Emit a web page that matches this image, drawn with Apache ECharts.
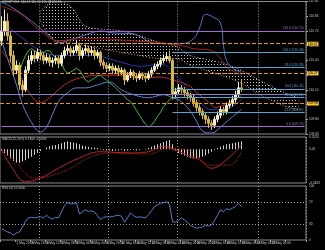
<!DOCTYPE html>
<html><head><meta charset="utf-8">
<script src="https://cdn.jsdelivr.net/npm/echarts@6/dist/echarts.min.js"></script>
<style>html,body{margin:0;padding:0;background:#000;}#c{width:325px;height:250px;}</style>
</head><body><div id="c"></div>
<script>
// ---------- DATA ----------
const barCount = 102; // 81 price bars + future space for the cloud
// [open, close, low, high]
const candles = [
[110.60,110.70,110.55,110.85],[110.70,110.80,110.65,110.92],[110.80,110.65,110.60,110.88],[110.65,110.45,110.38,110.70],
[110.45,110.30,110.24,110.50],[110.30,110.35,110.26,110.40],[110.35,110.15,110.10,110.38],[110.15,110.10,110.03,110.20],
[110.10,110.30,110.08,110.34],[110.30,110.40,110.27,110.45],[110.40,110.45,110.36,110.50],[110.45,110.42,110.38,110.50],
[110.42,110.48,110.39,110.52],[110.48,110.45,110.40,110.51],[110.45,110.40,110.36,110.48],[110.40,110.43,110.37,110.47],
[110.43,110.38,110.34,110.46],[110.38,110.40,110.33,110.43],[110.40,110.42,110.36,110.45],[110.42,110.37,110.32,110.45],
[110.37,110.45,110.34,110.48],[110.45,110.50,110.42,110.54],[110.50,110.52,110.46,110.56],[110.52,110.48,110.44,110.55],
[110.48,110.50,110.45,110.54],[110.50,110.55,110.47,110.60],[110.55,110.45,110.40,110.58],[110.45,110.50,110.42,110.53],
[110.50,110.52,110.46,110.56],[110.52,110.48,110.44,110.55],[110.48,110.50,110.45,110.54],[110.50,110.45,110.41,110.53],
[110.45,110.48,110.42,110.51],[110.48,110.38,110.34,110.50],[110.38,110.35,110.31,110.41],[110.35,110.32,110.28,110.38],
[110.32,110.34,110.29,110.37],[110.34,110.30,110.26,110.37],[110.30,110.32,110.27,110.35],[110.32,110.28,110.24,110.35],
[110.28,110.30,110.25,110.33],[110.30,110.20,110.15,110.32],[110.20,110.25,110.18,110.28],[110.25,110.28,110.22,110.31],
[110.28,110.24,110.20,110.30],[110.24,110.22,110.18,110.27],[110.22,110.26,110.20,110.29],[110.26,110.24,110.20,110.28],
[110.24,110.22,110.18,110.27],[110.22,110.26,110.20,110.29],[110.26,110.30,110.23,110.33],[110.30,110.34,110.28,110.37],
[110.34,110.36,110.31,110.39],[110.36,110.40,110.33,110.43],[110.40,110.42,110.37,110.46],[110.42,110.44,110.39,110.48],
[110.44,110.40,110.37,110.50],[110.40,110.05,110.00,110.42],[110.05,110.08,110.02,110.12],[110.08,110.12,110.05,110.16],
[110.12,110.10,110.06,110.15],[110.10,110.07,110.03,110.13],[110.07,110.04,110.00,110.10],[110.04,110.02,109.98,110.07],
[110.02,109.97,109.93,110.05],[109.97,109.92,109.88,110.00],[109.92,109.88,109.84,109.95],[109.88,109.84,109.80,109.91],
[109.84,109.80,109.75,109.87],[109.80,109.76,109.71,109.83],[109.76,109.74,109.69,109.79],[109.74,109.80,109.71,109.83],
[109.80,109.84,109.77,109.88],[109.84,109.90,109.81,109.93],[109.90,109.88,109.84,109.93],[109.88,109.94,109.85,109.97],
[109.94,109.96,109.91,110.00],[109.96,110.00,109.93,110.04],[110.00,110.05,109.97,110.09],[110.05,110.12,110.02,110.18],
[110.12,110.11,110.08,110.20]
];
// indicator lines: [bar index, price]
const bandUpper = [[0,110.99],[3,110.95],[10,110.80],[16,110.65],[19,110.58],[24,110.62],[30,110.68],[33,110.70],[37,110.68],[44,110.67],[47,110.63],[50,110.58],[54,110.57],[60,110.57],[64,110.62],[66,110.73],[68,110.87],[70,110.85],[73,110.78],[74,110.55],[75,110.40],[77,110.32],[80,110.28]];
const bandLower = [[0,110.60],[3,110.33],[5,110.15],[7,109.95],[10,109.77],[13,109.67],[15,109.72],[17,109.85],[19,109.98],[22,110.07],[25,110.12],[28,110.12],[32,110.15],[36,110.18],[40,110.10],[44,110.05],[49,110.02],[54,110.05],[57,110.02],[60,109.98],[63,109.88],[65,109.78],[67,109.68],[70,109.66],[73,109.72],[76,109.80],[80,109.90]];
const redLower = [[0,110.50],[6,110.25],[9,110.08],[13,109.97],[16,110.02],[19,110.10],[22,110.17],[26,110.22],[33,110.25],[40,110.25],[46,110.22],[53,110.23],[57,110.20],[62,110.15],[66,110.05],[70,109.95],[71,109.92],[75,109.96],[80,110.04]];
const redUpper = [[0,110.95],[6,110.88],[13,110.70],[19,110.60],[26,110.62],[33,110.62],[43,110.60],[53,110.58],[60,110.55],[64,110.52],[70,110.50],[73,110.42],[75,110.33],[78,110.28],[80,110.24]];
const kijun = [[0,110.80],[6,110.65],[13,110.50],[19,110.45],[30,110.45],[40,110.38],[46,110.34],[53,110.36],[58,110.25],[64,110.05],[70,109.90],[74,109.90],[80,110.00]];
const chikou = [[6,110.28],[7,110.38],[8,110.45],[9,110.50],[10,110.52],[11,110.50],[12,110.48],[13,110.47],[14,110.48],[15,110.50],[16,110.50],[17,110.46],[18,110.43],[19,110.42],[20,110.38],[21,110.30],[22,110.27],[23,110.28],[24,110.30],[25,110.32],[26,110.30],[27,110.25],[28,110.20],[29,110.18],[30,110.20],[31,110.22],[32,110.24],[33,110.25],[34,110.22],[35,110.20],[36,110.17],[37,110.15],[38,110.12],[39,110.09],[40,110.06],[41,110.03],[42,110.00],[43,109.98],[44,109.94],[45,109.89],[46,109.84],[47,109.79],[48,109.75],[49,109.72],[50,109.74],[51,109.78],[52,109.83],[53,109.87],[54,109.93],[55,109.96],[56,110.00],[57,110.03]];
const cloudLow = [[13,110.80],[18,110.60],[23,110.58],[28,110.55],[33,110.52],[40,110.48],[46,110.45],[53,110.42],[58,110.42],[63,110.35],[70,110.28],[76,110.22],[81,110.15],[86,110.05],[91,109.98],[96,109.92],[99,109.90]];
const cloudHigh = [[13,110.90],[18,111.00],[23,110.95],[28,110.75],[33,110.72],[40,110.70],[46,110.65],[53,110.58],[58,110.55],[63,110.45],[70,110.40],[76,110.35],[81,110.28],[86,110.20],[91,110.12],[96,110.05],[99,110.02]];
// levels
const fibNames  = ['161.8','100.0','76.4','50.0','38.2','23.6','0.0'];
const fibPrices = [110.70, 110.48, 110.33, 110.11, 110.02, 109.87, 109.73];
const dashedLevels = [110.57, 110.27, 109.96];
const plainLevels = [110.06];
const lastPrice = 110.11;
// MACD
const macdHist = [-0.03,-0.06,-0.10,-0.15,-0.19,-0.22,-0.22,-0.20,-0.18,-0.15,-0.12,-0.09,-0.06,-0.03,0.00,0.03,0.05,0.06,0.07,0.08,
0.10,0.12,0.13,0.12,0.11,0.10,0.08,0.06,0.05,0.04,0.03,0.03,0.02,0.01,-0.01,-0.02,-0.02,-0.03,-0.02,-0.02,-0.01,-0.03,-0.02,-0.01,-0.01,-0.02,-0.01,0.00,0.01,0.02,
0.04,0.06,0.08,0.10,0.12,0.14,0.15,0.08,-0.02,-0.06,-0.08,-0.10,-0.12,-0.14,-0.15,-0.15,-0.14,-0.12,-0.10,-0.07,-0.04,-0.01,
0.02,0.04,0.06,0.08,0.09,0.10,0.11,0.12,0.13];
const macdMain = [[0,-0.01],[3,-0.26],[8,-0.53],[13,-0.47],[19,-0.31],[26,-0.14],[33,-0.04],[43,-0.06],[49,-0.04],[54,0.05],[58,-0.01],[63,-0.12],[66,-0.17],[70,-0.31],[75,-0.17],[80,0.07]];
const macdSignal = [[0,0.02],[4,-0.17],[11,-0.47],[16,-0.44],[23,-0.31],[29,-0.14],[36,-0.06],[49,-0.08],[56,0.02],[63,-0.04],[70,-0.26],[76,-0.26],[80,-0.04]];
// RSI
const rsi = [21,18,15,13,9,13,15,24,35,41,42,41,42,43,41,46,41,39,42,41,52,64,69,67,67,69,48,52,56,53,
54,52,45,38,42,43,43,43,45,46,44,33,41,50,45,42,43,42,41,47,54,62,65,68,69,71,66,34,33,36,
41,37,33,27,24,22,23,24,27,26,28,36,46,56,52,58,56,59,62,68,62];
// time axis
const xTickIdx  = [0,5,10,15,20,25,30,35,40,45,50,55,60,65,70,75,80,85,90,95];
const xTickText = ['2 May 2017','2 May 20:00','3 May 16:00','4 May 12:00','5 May 08:00','8 May 04:00','9 May 00:00','9 May 20:00','10 May 16:00','11 May 12:00','12 May 08:00','15 May 04:00','16 May 00:00','16 May 20:00','17 May 16:00','18 May 12:00','19 May 08:00','22 May 04:00','23 May 00:00','23 May 20:00'];
const vGridIdx = [13, 36, 59, 86];
const titleText = 'USDJPY,H4  110.12 110.20 110.08 110.11';
const macdText = 'MACD(12,26,9) 0.1300 -0.0400';
const rsiText = 'RSI(14) 62.0000';

// ---------- CHART ----------
const cats = Array.from({length: barCount}, (_, i) => String(i));
const chart = echarts.init(document.getElementById('c'), null, {renderer: 'canvas'});
const txt = '#c8c8c8', FS = 3.2;
const dots = document.createElement('canvas'); dots.width = 3; dots.height = 3;
(function(){const g = dots.getContext('2d'); g.fillStyle = '#cfc2b2'; g.fillRect(1, 1, 1, 1);})();
const cloudDiff = cloudHigh.map((p, k) => [p[0], +(p[1] - cloudLow[k][1]).toFixed(2)]);

const splitV = {show: true, interval: (i) => vGridIdx.includes(i), lineStyle: {color: '#9a9a9a', type: [1, 2], width: 1}};
function xAx(gi, showLabels) {
  return {type: 'category', gridIndex: gi, data: cats, boundaryGap: true,
    axisLine: {show: false}, splitLine: splitV,
    axisTick: {show: showLabels, interval: (i) => xTickIdx.includes(i), length: 2, lineStyle: {color: '#a0a0a0'}},
    axisLabel: {show: showLabels, interval: (i) => xTickIdx.includes(i), color: txt, fontSize: FS, margin: 2, align: 'left',
      formatter: (v, i) => { const k = xTickIdx.indexOf(+v); return k >= 0 ? xTickText[k] : ''; }}};
}
const near = (a, b) => Math.abs(a - b) < 1e-6;

const fibLines = fibPrices.map((p, k) => {
  const full = (k === 0 || k === fibPrices.length - 1);
  const col = full ? '#a66bd0' : '#4fa8cf';
  return [{coord: [full ? 0 : 57, p], lineStyle: {color: col, width: 1, type: 'solid'},
           label: {show: true, position: 'insideEndTop', formatter: fibNames[k] + ' (' + p.toFixed(2) + ')', color: col, fontSize: FS, distance: 1}},
          {coord: [barCount - 1, p]}];
});
const dashLines = dashedLevels.map(p => ({yAxis: p, lineStyle: {color: '#e8961a', type: [4, 2], width: 1},
  label: {show: true, position: 'end', distance: 1, formatter: p.toFixed(2), color: '#000', backgroundColor: '#f2c230', fontSize: FS, padding: [0.5, 1]}}));
const plainLines = plainLevels.map(p => ({yAxis: p, lineStyle: {color: '#8a80c8', type: 'solid', width: 1}, label: {show: false}}));
const boxLines = [
  {yAxis: lastPrice, lineStyle: {opacity: 0}, label: {show: true, position: 'end', distance: 1, formatter: lastPrice.toFixed(2), color: '#000', backgroundColor: '#e8e8e8', fontSize: FS, padding: [0.5, 1]}},
  {yAxis: fibPrices[fibPrices.length - 1], lineStyle: {opacity: 0}, label: {show: true, position: 'end', distance: 1, formatter: fibPrices[fibPrices.length - 1].toFixed(2), color: '#fff', backgroundColor: '#9a5cc6', fontSize: FS, padding: [0.5, 1]}}
];

function lineS(data, color, extra) {
  return Object.assign({type: 'line', xAxisIndex: 0, yAxisIndex: 0, data: data, smooth: 0.4, symbol: 'none',
    lineStyle: {color: color, width: 1}, silent: true, z: 3}, extra || {});
}

chart.setOption({
  animation: false,
  backgroundColor: '#000000',
  grid: [
    {left: 0, right: 19, top: 0, height: 134, show: true, borderColor: '#8c8c8c', borderWidth: 1},
    {left: 0, right: 19, top: 137, height: 46, show: true, borderColor: '#8c8c8c', borderWidth: 1},
    {left: 0, right: 19, top: 186, height: 54, show: true, borderColor: '#8c8c8c', borderWidth: 1}
  ],
  xAxis: [xAx(0, false), xAx(1, false), xAx(2, true)],
  yAxis: [
    {type: 'value', gridIndex: 0, position: 'right', min: 109.65, max: 111.00, interval: 0.15, scale: true,
      splitLine: {show: false}, axisLine: {show: false}, axisTick: {show: true, length: 2, lineStyle: {color: '#a0a0a0'}},
      axisLabel: {color: txt, fontSize: FS, margin: 3, formatter: v => v.toFixed(2)}},
    {type: 'value', gridIndex: 1, position: 'right', min: -0.55, max: 0.20, interval: 0.05,
      splitLine: {show: false}, axisLine: {show: false}, axisTick: {show: false},
      axisLabel: {color: txt, fontSize: FS, margin: 3, formatter: v => (near(v, 0.2) ? '0.2053' : near(v, 0) ? '0.00' : near(v, -0.55) ? '-0.5463' : '')}},
    {type: 'value', gridIndex: 2, position: 'right', min: 0, max: 100, interval: 10,
      splitLine: {show: false}, axisLine: {show: false}, axisTick: {show: false},
      axisLabel: {color: txt, fontSize: FS, margin: 3, formatter: v => ([0, 30, 70, 100].includes(Math.round(v)) && near(v, Math.round(v)) ? String(Math.round(v)) : '')}}
  ],
  series: [
    // Ichimoku cloud (dotted)
    {type: 'line', xAxisIndex: 0, yAxisIndex: 0, data: cloudLow, stack: 'kumo', smooth: 0.4, symbol: 'none', silent: true,
      lineStyle: {color: '#f4a460', width: 1, type: [1, 2]}, z: 2},
    {type: 'line', xAxisIndex: 0, yAxisIndex: 0, data: cloudDiff, stack: 'kumo', smooth: 0.4, symbol: 'none', silent: true,
      lineStyle: {color: '#d8bfd8', width: 1, type: [1, 2]}, areaStyle: {color: {image: dots, repeat: 'repeat'}, opacity: 1}, z: 2},
    lineS(bandUpper, '#4f74c8'),
    lineS(bandLower, '#5a82cf'),
    lineS(redUpper, '#a3201c'),
    lineS(redLower, '#c42a22'),
    lineS(kijun, '#2a36b0'),
    lineS(chikou, '#3dbb3d', {smooth: false}),
    {type: 'candlestick', xAxisIndex: 0, yAxisIndex: 0, data: candles, barWidth: 2, silent: true, z: 4,
      itemStyle: {color: '#f4eec6', color0: '#d6b83e', borderColor: '#f4eec6', borderColor0: '#d6b83e', borderWidth: 1},
      markLine: {silent: true, symbol: ['none', 'none'], animation: false, precision: 2,
        data: [...fibLines, ...dashLines, ...plainLines, ...boxLines]}},
    // MACD
    {type: 'bar', xAxisIndex: 1, yAxisIndex: 1, data: macdHist, barWidth: 1, silent: true, itemStyle: {color: '#d0d0d0'}},
    {type: 'line', xAxisIndex: 1, yAxisIndex: 1, data: macdMain, smooth: 0.4, symbol: 'none', silent: true, lineStyle: {color: '#c0221c', width: 1}},
    {type: 'line', xAxisIndex: 1, yAxisIndex: 1, data: macdSignal, smooth: 0.4, symbol: 'none', silent: true, lineStyle: {color: '#c0221c', width: 1, type: [1, 1]}},
    // RSI
    {type: 'line', xAxisIndex: 2, yAxisIndex: 2, data: rsi, symbol: 'none', silent: true, lineStyle: {color: '#4d80cc', width: 1},
      markLine: {silent: true, symbol: ['none', 'none'], label: {show: false},
        lineStyle: {color: '#a0a0a0', type: [1, 2], width: 1}, data: [{yAxis: 70}, {yAxis: 30}]}}
  ],
  graphic: [
    {type: 'text', left: 2, top: 1, style: {text: titleText, fill: txt, fontSize: FS}},
    {type: 'text', left: 2, top: 138, style: {text: macdText, fill: txt, fontSize: FS}},
    {type: 'text', left: 2, top: 187, style: {text: rsiText, fill: txt, fontSize: FS}}
  ]
});
</script></body></html>
